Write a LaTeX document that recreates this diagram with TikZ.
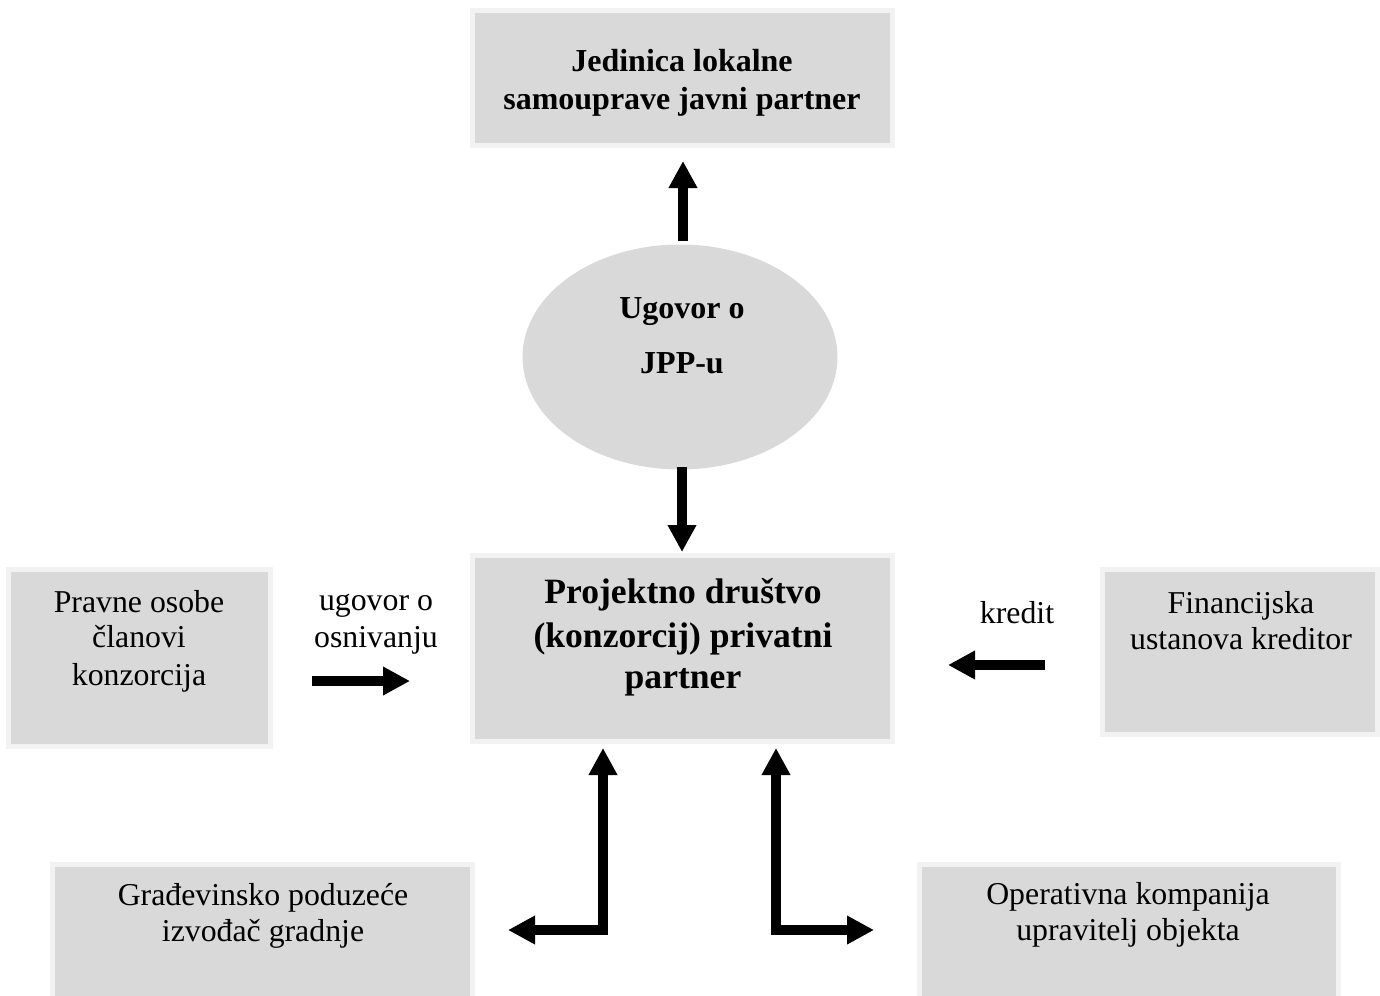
\documentclass[tikz,border=0pt]{standalone}
\usepackage{fontspec}
\setmainfont{Liberation Serif}
\usetikzlibrary{arrows.meta,shapes.geometric}
\definecolor{boxfill}{HTML}{D9D9D9}
\definecolor{boxedge}{HTML}{F2F2F2}
\tikzset{
  box/.style={rectangle, fill=boxfill, draw=boxedge, line width=5pt, inner sep=0pt},
  oval/.style={ellipse, fill=boxfill, inner sep=0pt},
  txt/.style={anchor=base, inner sep=0pt, font=\fontsize{31.8pt}{36pt}\selectfont},
  btxt/.style={anchor=base, inner sep=0pt, font=\fontsize{32pt}{38pt}\selectfont\bfseries},
  cbtxt/.style={anchor=base, inner sep=0pt, font=\fontsize{35.6pt}{42pt}\selectfont\bfseries},
  arr/.style={line width=9.5pt, line join=miter, -{Triangle[width=27pt,length=27pt]}},
  darr/.style={line width=9.5pt, line join=miter, {Triangle[width=27pt,length=27pt]}-{Triangle[width=27pt,length=27pt]}}
}
\begin{document}
\begin{tikzpicture}[x=1pt,y=-1pt]
\useasboundingbox (0,0) rectangle (1380,995);
\clip (0,0) rectangle (1380,995);
% boxes
\node[box, minimum width=420pt, minimum height=135pt] (top) at (682.5,78) {};
\node[box, minimum width=420pt, minimum height=186pt] (mid) at (682.5,648.5) {};
\node[box, minimum width=262pt, minimum height=177pt] (left) at (139.5,658) {};
\node[box, minimum width=275pt, minimum height=165pt] (right) at (1240,652) {};
\node[box, minimum width=420pt, minimum height=143pt] (bl) at (262.5,936) {};
\node[box, minimum width=419pt, minimum height=143pt] (br) at (1129,936) {};
\node[oval, minimum width=315pt, minimum height=225pt] (ugovor) at (680,357) {};
% texts
\node[btxt] (t1) at (682,72) {Jedinica lokalne};
\node[btxt] (t2) at (682,110) {samouprave javni partner};
\node[btxt] (e1) at (682,318) {Ugovor o};
\node[btxt] (e2) at (682,373) {JPP-u};
\node[cbtxt] (m1) at (683,603) {Projektno društvo};
\node[cbtxt] (m2) at (683,647) {(konzorcij) privatni};
\node[cbtxt] (m3) at (683,688) {partner};
\node[txt] (l1) at (139,612) {Pravne osobe};
\node[txt] (l2) at (139,647) {članovi};
\node[txt] (l3) at (139,685) {konzorcija};
\node[txt] (u1) at (376,610) {ugovor o};
\node[txt] (u2) at (376,647) {osnivanju};
\node[txt] (k1) at (1017,623) {kredit};
\node[txt] (r1) at (1241,613) {Financijska};
\node[txt] (r2) at (1241,649) {ustanova kreditor};
\node[txt] (g1) at (263,905) {Građevinsko poduzeće};
\node[txt] (g2) at (263,941) {izvođač gradnje};
\node[txt] (o1) at (1128,904) {Operativna kompanija};
\node[txt] (o2) at (1128,940) {upravitelj objekta};
% arrow coordinates
\coordinate (upS) at (683,241);
\coordinate (upE) at (683,161);
\coordinate (dnS) at (682,467);
\coordinate (dnE) at (682,552);
\coordinate (rS) at (312,681);
\coordinate (rE) at (410,681);
\coordinate (kS) at (1045,665);
\coordinate (kE) at (948,665);
\coordinate (blUp) at (603,748);
\coordinate (blC) at (603,930);
\coordinate (blL) at (508,930);
\coordinate (brUp) at (776,748);
\coordinate (brC) at (776,930);
\coordinate (brR) at (874,930);
% arrows
\draw[arr] (upS) -- (upE);
\draw[arr] (dnS) -- (dnE);
\draw[arr] (rS) -- (rE);
\draw[arr] (kS) -- (kE);
\draw[darr] (blUp) -- (blC) -- (blL);
\draw[darr] (brUp) -- (brC) -- (brR);
\end{tikzpicture}
\end{document}
